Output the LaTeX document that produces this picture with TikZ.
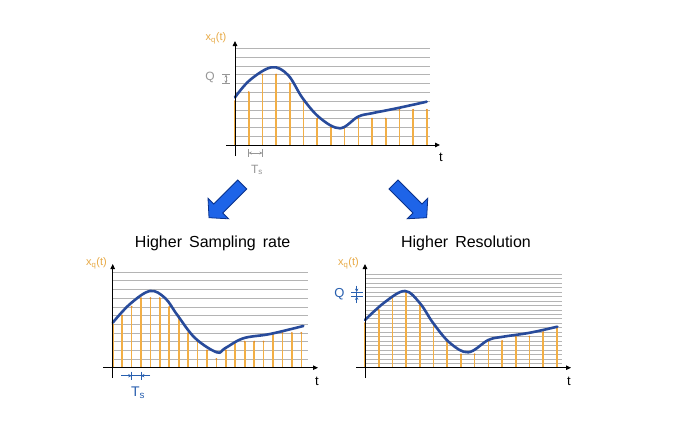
\documentclass[tikz,border=0pt]{standalone}
\usepackage{fontspec}
\setmainfont{Liberation Sans}
\usetikzlibrary{arrows.meta}
\definecolor{stemc}{RGB}{242,175,70}
\definecolor{stemdot}{RGB}{225,140,40}
\definecolor{gridc}{RGB}{180,180,180}
\definecolor{curvec}{RGB}{40,75,155}
\definecolor{arrfill}{RGB}{30,100,232}
\definecolor{arredge}{RGB}{10,50,140}
\definecolor{labc}{RGB}{232,170,70}
\definecolor{dimgray}{RGB}{150,150,150}
\definecolor{dimblue}{RGB}{40,95,175}
\newcommand{\wsp}{\hspace{7pt}}
\begin{document}
\begin{tikzpicture}[x=1pt,y=-1pt,
  gridline/.style={gridc, line width=0.6pt},
  stemline/.style={stemc, line width=1.6pt},
  stemtop/.style={fill=stemdot},
  sigcurve/.style={curvec, line width=2.6pt, line cap=round, line join=round},
  axisarrow/.style={black, line width=0.9pt, -{Triangle[length=5pt,width=4.5pt]}},
  ylabel/.style={labc, font=\fontsize{11}{13}\selectfont, inner sep=0pt},
  tlabel/.style={font=\fontsize{13}{14}\selectfont, inner sep=0pt},
  titlelabel/.style={font=\fontsize{16}{18}\selectfont, inner sep=0pt},
  dimline/.style={line width=0.7pt},
  dimtip/.style={line width=0.7pt, -{Stealth[length=3.4pt,width=3.4pt]}},
  dimboth/.style={line width=0.7pt, {Stealth[length=3pt,width=3pt]}-{Stealth[length=3pt,width=3pt]}},
  blockarrow/.style={fill=arrfill, draw=arredge, line width=0.8pt, line join=miter}
]
\useasboundingbox (0,0) rectangle (700,423);
\fill[white] (0,0) rectangle (700,423);

% ---------------- top plot ----------------
\foreach \k in {1,...,11}
  \draw[gridline] (236,{145-8.8*\k}) -- (430,{145-8.8*\k});
\foreach \lv [count=\i from 0] in {5,6,8,8,7,5,3,2,2,3,3,3,4,4,4} {
  \draw[stemline] ({235+13.7*\i},145) -- ({235+13.7*\i},{145-8.8*\lv});
  \fill[stemtop] ({235+13.7*\i},{145-8.8*\lv}) circle (1pt);
}
\draw[sigcurve] plot[smooth, tension=0.6] coordinates {
  (235,97.3) (250,80) (271.7,67.3) (288,75) (302.7,98.3) (320,118)
  (340,128.3) (358,116.7) (371.7,113.3) (396.7,108.3) (426.7,101.7)};
\coordinate (yb1) at (235,156);
\coordinate (yt1) at (235,41);
\coordinate (xl1) at (226,145);
\coordinate (xr1) at (440,145);
\draw[axisarrow] (yb1) -- (yt1);
\draw[axisarrow] (xl1) -- (xr1);
\node[ylabel] (xq1) at (216,38) {x\textsubscript{q}(t)};
\node[tlabel] (t1) at (441,157) {t};
% Q marker (gray)
\node[dimgray, font=\fontsize{12}{13}\selectfont, inner sep=0pt] (q1) at (210,77) {Q};
\coordinate (qa1) at (222,74.6);
\coordinate (qb1) at (230,74.6);
\coordinate (qc1) at (222,83.4);
\coordinate (qd1) at (230,83.4);
\draw[dimgray, dimline] (qa1) -- (qb1);
\draw[dimgray, dimline] (qc1) -- (qd1);
\coordinate (qm1) at (226,74.6);
\coordinate (qn1) at (226,83.4);
\draw[dimgray, dimboth] (qm1) -- (qn1);
% Ts marker (gray)
\coordinate (ta1) at (248.7,149);
\coordinate (tb1) at (248.7,157);
\coordinate (tc1) at (262.4,149);
\coordinate (td1) at (262.4,157);
\draw[dimgray, dimline] (ta1) -- (tb1);
\draw[dimgray, dimline] (tc1) -- (td1);
\coordinate (tm1) at (248.7,153);
\coordinate (tn1) at (262.4,153);
\draw[dimgray, dimboth] (tm1) -- (tn1);
\node[dimgray, font=\fontsize{12}{13}\selectfont, inner sep=0pt] (ts1) at (257,170) {T\textsubscript{s}};

% ---------------- block arrows ----------------
\draw[blockarrow] (246.7,189.0) -- (237.7,180.0) -- (213.7,204.0) -- (208.0,198.3)
  -- (209,217.7) -- (228.5,218.8) -- (222.7,213.0) -- cycle;
\draw[blockarrow] (389.0,189.0) -- (398.0,180.0) -- (422.0,204.0) -- (427.75,198.25)
  -- (426.7,217.7) -- (407.25,218.75) -- (413.0,213.0) -- cycle;

% ---------------- bottom-left plot ----------------
\node[titlelabel] (title2) at (212.7,243.3) {Higher\wsp Sampling\wsp rate};
\foreach \k in {1,...,11}
  \draw[gridline] (113,{367.7-8.7*\k}) -- (308,{367.7-8.7*\k});
\foreach \lv [count=\i from 0] in {5,6,7,8,8,8,7,6,4,3,2,1,2,3,3,3,3,4,4,4,4} {
  \draw[stemline] ({112.7+9.43*\i},367.7) -- ({112.7+9.43*\i},{367.7-8.7*\lv});
  \fill[stemtop] ({112.7+9.43*\i},{367.7-8.7*\lv}) circle (1pt);
}
\draw[sigcurve] plot[smooth, tension=0.6] coordinates {
  (112.7,322.7) (130,304) (150,291) (165,298) (177.3,315) (195,338)
  (216.7,352.3) (225,348.3) (243.3,338.3) (270,334) (303.3,326)};
\coordinate (yb2) at (112.7,378);
\coordinate (yt2) at (112.7,264);
\coordinate (xl2) at (103,367.7);
\coordinate (xr2) at (318,367.7);
\draw[axisarrow] (yb2) -- (yt2);
\draw[axisarrow] (xl2) -- (xr2);
\node[ylabel] (xq2) at (96.5,263) {x\textsubscript{q}(t)};
\node[tlabel] (t2) at (317,381) {t};
% Ts marker (blue)
\coordinate (ta2) at (131.6,371.5);
\coordinate (tb2) at (131.6,380);
\coordinate (tc2) at (141,371.5);
\coordinate (td2) at (141,380);
\draw[dimblue, dimline] (ta2) -- (tb2);
\draw[dimblue, dimline] (tc2) -- (td2);
\coordinate (tl2) at (121,375.7);
\coordinate (tm2) at (131.6,375.7);
\coordinate (tn2) at (141,375.7);
\coordinate (tr2) at (150,375.7);
\draw[dimblue, dimline] (tm2) -- (tn2);
\draw[dimblue, dimtip] (tl2) -- (tm2);
\draw[dimblue, dimtip] (tr2) -- (tn2);
\node[dimblue, font=\fontsize{14}{15}\selectfont, inner sep=0pt] (ts2) at (138,393) {T\textsubscript{s}};

% ---------------- bottom-right plot ----------------
\node[titlelabel] (title3) at (466,243.3) {Higher\wsp Resolution};
\foreach \k in {1,...,21}
  \draw[gridline] (365.5,{367.7-4.45*\k}) -- (561.7,{367.7-4.45*\k});
\foreach \lv [count=\i from 0] in {10,13,16,17,14,10,6,3,3,6,6,7,7,8,9} {
  \draw[stemline] ({365+13.7*\i},367.7) -- ({365+13.7*\i},{367.7-4.45*\lv});
  \fill[stemtop] ({365+13.7*\i},{367.7-4.45*\lv}) circle (1pt);
}
\draw[sigcurve] plot[smooth, tension=0.6] coordinates {
  (365,320) (385,302) (405,291) (420,303.3) (433.3,323.3) (450,343)
  (468.3,352.3) (488.3,340) (503.3,336.7) (530,332.7) (557.3,326.7)};
\coordinate (yb3) at (365,378);
\coordinate (yt3) at (365,264);
\coordinate (xl3) at (356,367.7);
\coordinate (xr3) at (571,367.7);
\draw[axisarrow] (yb3) -- (yt3);
\draw[axisarrow] (xl3) -- (xr3);
\node[ylabel] (xq3) at (348.5,263) {x\textsubscript{q}(t)};
\node[tlabel] (t3) at (569,381) {t};
% Q marker (blue)
\node[dimblue, font=\fontsize{13}{14}\selectfont, inner sep=0pt] (q3) at (339.5,294.5) {Q};
\coordinate (qa3) at (351,292.05);
\coordinate (qb3) at (363,292.05);
\coordinate (qc3) at (351,296.5);
\coordinate (qd3) at (363,296.5);
\draw[dimblue, dimline] (qa3) -- (qb3);
\draw[dimblue, dimline] (qc3) -- (qd3);
\coordinate (qt3) at (356.7,285.5);
\coordinate (qm3) at (356.7,292.05);
\coordinate (qn3) at (356.7,296.5);
\coordinate (qu3) at (356.7,303);
\draw[dimblue, dimline] (qm3) -- (qn3);
\draw[dimblue, dimtip] (qt3) -- (qm3);
\draw[dimblue, dimtip] (qu3) -- (qn3);
\end{tikzpicture}
\end{document}
